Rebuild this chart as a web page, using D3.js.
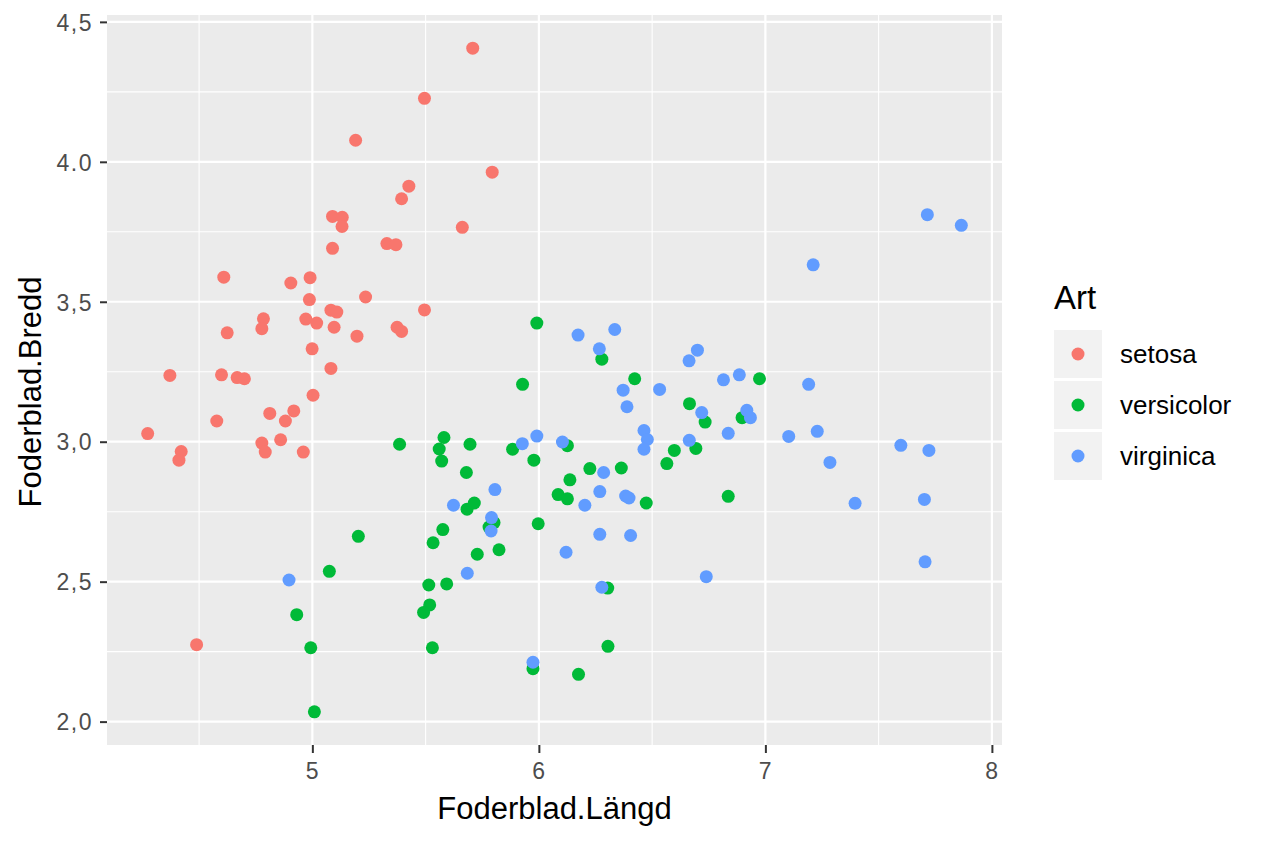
<!DOCTYPE html>
<html>
<head>
  <meta charset="utf-8">
  <title>Foderblad</title>
  <style>
    body { margin: 0; background: white; font-family: "Liberation Sans", Arial, sans-serif; }
    .tick-label { font-size: 23px; fill: #4d4d4d; letter-spacing: 1.5px; }
    .axis-title { font-size: 31px; fill: black; }
    .legend-title { font-size: 33px; fill: black; }
    .legend-label { font-size: 26px; fill: black; }
  </style>
  <script src="https://d3js.org/d3.v7.min.js"></script>
</head>
<body>
  <div id="chart"></div>
  <script>
    // Species and colours (ggplot defaults)
    const species = ["setosa", "versicolor", "virginica"];
    const speciesColors = ["#F8766D", "#00BA38", "#619CFF"];

    // Jittered points: [Foderblad.Längd, Foderblad.Bredd]
    const setosa = [
      [5.708, 4.406], [5.495, 4.227], [5.191, 4.077], [5.794, 3.963], [5.426, 3.913],
      [5.394, 3.868], [5.089, 3.805], [5.132, 3.802], [5.131, 3.769], [5.662, 3.766],
      [5.089, 3.691], [5.329, 3.708], [5.369, 3.704], [4.609, 3.588], [4.905, 3.567],
      [4.990, 3.586], [5.235, 3.517], [4.987, 3.508], [5.495, 3.471], [5.082, 3.470],
      [5.108, 3.463], [4.784, 3.439], [4.971, 3.438], [5.019, 3.424], [4.777, 3.404],
      [5.096, 3.409], [4.624, 3.389], [5.197, 3.377], [5.374, 3.409], [5.394, 3.394],
      [4.999, 3.332], [5.082, 3.262], [4.371, 3.237], [4.599, 3.239], [4.668, 3.229],
      [4.700, 3.225], [5.003, 3.166], [4.812, 3.101], [4.918, 3.110], [4.881, 3.074],
      [4.578, 3.074], [4.273, 3.029], [4.777, 2.995], [4.860, 3.007], [4.421, 2.965],
      [4.411, 2.934], [4.792, 2.963], [4.960, 2.963], [4.489, 2.275]
    ];
    const versicolor = [
      [5.991, 3.424], [5.928, 3.205], [5.385, 2.991], [5.581, 3.015], [5.696, 2.991],
      [5.560, 2.974], [5.571, 2.931], [5.884, 2.973], [5.978, 2.934], [5.680, 2.890],
      [4.931, 2.382], [4.993, 2.264], [5.009, 2.035], [5.075, 2.537], [5.203, 2.662],
      [5.514, 2.488], [5.593, 2.492], [5.518, 2.417], [5.491, 2.390], [5.530, 2.264],
      [5.533, 2.639], [5.576, 2.686], [5.683, 2.759], [5.715, 2.781], [5.802, 2.711],
      [5.780, 2.695], [5.728, 2.598], [5.824, 2.614], [5.997, 2.707], [6.085, 2.811],
      [6.126, 2.796], [6.474, 2.781], [6.304, 2.477], [6.305, 2.269], [5.974, 2.189],
      [6.175, 2.169], [6.278, 3.295], [6.423, 3.225], [6.974, 3.225], [6.665, 3.136],
      [6.734, 3.070], [6.897, 3.086], [6.693, 2.976], [6.598, 2.969], [6.565, 2.922],
      [6.126, 2.986], [6.225, 2.904], [6.364, 2.906], [6.137, 2.864], [6.836, 2.805]
    ];
    const virginica = [
      [4.897, 2.506], [5.927, 2.993], [5.991, 3.020], [5.806, 2.829], [5.623, 2.773],
      [5.791, 2.729], [5.789, 2.681], [5.684, 2.530], [6.269, 2.822], [6.203, 2.773],
      [6.383, 2.806], [6.398, 2.799], [6.269, 2.669], [6.405, 2.665], [6.120, 2.605],
      [6.278, 2.480], [5.974, 2.212], [6.173, 3.381], [6.335, 3.401], [6.267, 3.332],
      [6.700, 3.327], [6.663, 3.289], [6.372, 3.184], [6.533, 3.187], [6.389, 3.125],
      [6.815, 3.221], [6.885, 3.239], [6.719, 3.104], [6.918, 3.112], [6.934, 3.086],
      [6.836, 3.030], [7.103, 3.019], [6.464, 3.040], [6.479, 3.008], [6.464, 2.973],
      [6.664, 3.005], [6.104, 2.999], [6.286, 2.890], [7.715, 3.811], [7.865, 3.773],
      [7.211, 3.632], [7.191, 3.205], [7.229, 3.037], [7.285, 2.926], [7.598, 2.987],
      [7.722, 2.969], [7.396, 2.780], [7.702, 2.794], [7.705, 2.571], [6.739, 2.518]
    ];

    // Axis breaks and their labels as printed
    const xBreaks = [5, 6, 7, 8];
    const xLabels = ["5", "6", "7", "8"];
    const yBreaks = [2.0, 2.5, 3.0, 3.5, 4.0, 4.5];
    const yLabels = ["2,0", "2,5", "3,0", "3,5", "4.0", "4,5"];

    const seriesData = [setosa, versicolor, virginica];
    const allPoints = [].concat(...seriesData);

    const width = 1264, height = 843;
    const panel = {left: 107, right: 1002, top: 15, bottom: 745};

    // ggplot-style 5% expansion of the data range
    const expand = ext => {
      const pad = (ext[1] - ext[0]) * 0.05;
      return [ext[0] - pad, ext[1] + pad];
    };

    const x = d3.scaleLinear()
      .domain(expand(d3.extent(allPoints, d => d[0])))
      .range([panel.left, panel.right]);
    const y = d3.scaleLinear()
      .domain(expand(d3.extent(allPoints, d => d[1])))
      .range([panel.bottom, panel.top]);

    const svg = d3.select("#chart")
      .append("svg")
        .attr("width", width)
        .attr("height", height);

    // Panel background
    svg.append("rect")
      .attr("x", panel.left)
      .attr("y", panel.top)
      .attr("width", panel.right - panel.left)
      .attr("height", panel.bottom - panel.top)
      .attr("fill", "#EBEBEB");

    // Minor gridlines sit half way between the major breaks
    const xMinor = [4.5, 5.5, 6.5, 7.5];
    const yMinor = [2.25, 2.75, 3.25, 3.75, 4.25];

    const grid = svg.append("g");
    grid.selectAll(".xminor")
      .data(xMinor)
      .enter().append("line")
        .attr("x1", d => x(d)).attr("x2", d => x(d))
        .attr("y1", panel.top).attr("y2", panel.bottom)
        .attr("stroke", "white").attr("stroke-width", 1.1);
    grid.selectAll(".yminor")
      .data(yMinor)
      .enter().append("line")
        .attr("x1", panel.left).attr("x2", panel.right)
        .attr("y1", d => y(d)).attr("y2", d => y(d))
        .attr("stroke", "white").attr("stroke-width", 1.1);
    grid.selectAll(".xmajor")
      .data(xBreaks)
      .enter().append("line")
        .attr("x1", d => x(d)).attr("x2", d => x(d))
        .attr("y1", panel.top).attr("y2", panel.bottom)
        .attr("stroke", "white").attr("stroke-width", 2.2);
    grid.selectAll(".ymajor")
      .data(yBreaks)
      .enter().append("line")
        .attr("x1", panel.left).attr("x2", panel.right)
        .attr("y1", d => y(d)).attr("y2", d => y(d))
        .attr("stroke", "white").attr("stroke-width", 2.2);

    // Axes
    const xAxis = svg.append("g")
      .attr("transform", `translate(0,${panel.bottom})`)
      .call(d3.axisBottom(x).tickValues(xBreaks).tickSize(8).tickPadding(10)
        .tickFormat((d, i) => xLabels[i]));
    const yAxis = svg.append("g")
      .attr("transform", `translate(${panel.left},0)`)
      .call(d3.axisLeft(y).tickValues(yBreaks).tickSize(7).tickPadding(7)
        .tickFormat((d, i) => yLabels[i]));

    [xAxis, yAxis].forEach(ax => {
      ax.select(".domain").remove();
      ax.selectAll(".tick line").attr("stroke", "#333333").attr("stroke-width", 2);
      ax.selectAll(".tick text")
        .attr("class", "tick-label")
        .attr("font-family", null)
        .attr("font-size", null)
        .attr("fill", null);
    });
    yAxis.selectAll(".tick text").attr("dy", "0.36em");

    // Axis titles
    svg.append("text")
      .attr("class", "axis-title")
      .attr("x", (panel.left + panel.right) / 2)
      .attr("y", 819)
      .attr("text-anchor", "middle")
      .text("Foderblad.Längd");

    svg.append("text")
      .attr("class", "axis-title")
      .attr("transform", `translate(41,${(panel.top + panel.bottom) / 2 + 12}) rotate(-90)`)
      .attr("text-anchor", "middle")
      .text("Foderblad.Bredd");

    // Points
    seriesData.forEach((points, i) => {
      svg.append("g")
        .selectAll("circle")
        .data(points)
        .enter().append("circle")
          .attr("cx", d => x(d[0]))
          .attr("cy", d => y(d[1]))
          .attr("r", 6.5)
          .attr("fill", speciesColors[i]);
    });

    // Legend
    const legend = svg.append("g")
      .attr("transform", "translate(1054,330)");

    legend.append("text")
      .attr("class", "legend-title")
      .attr("x", 0)
      .attr("y", -21)
      .text("Art");

    const keys = legend.selectAll(".key")
      .data(species)
      .enter().append("g")
        .attr("transform", (d, i) => `translate(0,${i * 51})`);

    keys.append("rect")
      .attr("width", 48)
      .attr("height", 48)
      .attr("fill", "#F2F2F2");

    keys.append("circle")
      .attr("cx", 24)
      .attr("cy", 24)
      .attr("r", 6.5)
      .attr("fill", (d, i) => speciesColors[i]);

    keys.append("text")
      .attr("class", "legend-label")
      .attr("x", 66)
      .attr("y", 24)
      .attr("dy", "0.36em")
      .text(d => d);
  </script>
</body>
</html>
